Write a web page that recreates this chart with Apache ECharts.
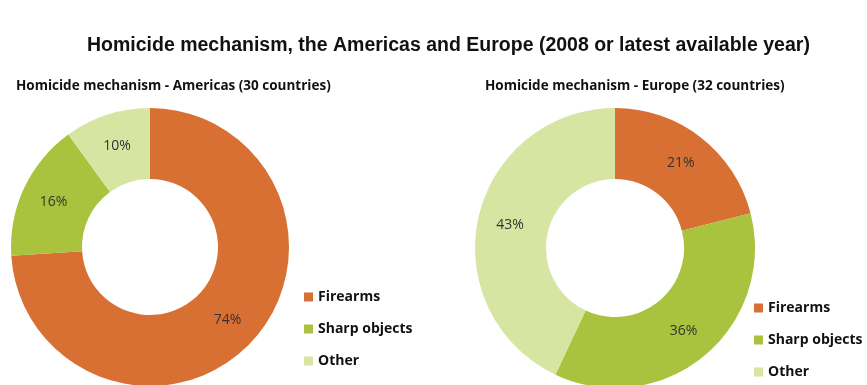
<!DOCTYPE html>
<html><head><meta charset="utf-8">
<script src="https://cdn.jsdelivr.net/npm/echarts@6/dist/echarts.min.js"></script>
<style>html,body{margin:0;padding:0;background:#fff}#c{width:867px;height:385px}</style>
</head><body><div id="c"></div>
<script>
const categories = ['Firearms', 'Sharp objects', 'Other'];
const americasValues = [74, 16, 10];
const europeValues = [21, 36, 43];
const colors = ['#d86f33', '#a9c33f', '#d7e5a2'];
const mainTitle = 'Homicide mechanism, the Americas and Europe (2008 or latest available year)';
const americasTitle = 'Homicide mechanism - Americas (30 countries)';
const europeTitle = 'Homicide mechanism - Europe (32 countries)';

const chart = echarts.init(document.getElementById('c'));
const mk = (vals) => categories.map((n, i) => ({ name: n, value: vals[i] }));
const labelCfg = { show: true, position: 'inside', formatter: '{c}%', color: '#333', fontSize: 14, fontFamily: 'Open Sans' };
const legendText = { fontFamily: 'Open Sans', fontWeight: 'bold', fontSize: 14, color: '#111' };
chart.setOption({
  animation: false,
  color: colors,
  title: [
    { text: mainTitle, left: 87, top: 36, padding: 0, textStyle: { fontFamily: 'Liberation Sans', fontWeight: 'bold', fontSize: 19.5, color: '#111' } },
    { text: americasTitle, left: 16, top: 79, padding: 0, textStyle: { fontFamily: 'Open Sans', fontWeight: 'bold', fontSize: 13.5, color: '#111' } },
    { text: europeTitle, left: 485, top: 79, padding: 0, textStyle: { fontFamily: 'Open Sans', fontWeight: 'bold', fontSize: 13.5, color: '#111' } }
  ],
  legend: [
    { data: categories, orient: 'vertical', left: 304, top: 290, height: 90, padding: 0, icon: 'rect', itemWidth: 9, itemHeight: 9, itemGap: 18,
      textStyle: legendText, selectedMode: false },
    { data: categories, orient: 'vertical', left: 754, top: 301, height: 84, padding: 0, icon: 'rect', itemWidth: 9, itemHeight: 9, itemGap: 18,
      textStyle: legendText, selectedMode: false }
  ],
  series: [
    { type: 'pie', center: [150, 247], radius: [68, 139], startAngle: 90, data: mk(americasValues), label: labelCfg, labelLine: { show: false }, silent: true },
    { type: 'pie', center: [615, 248], radius: [69, 140], startAngle: 90, data: mk(europeValues), label: labelCfg, labelLine: { show: false }, silent: true }
  ]
});
</script></body></html>
